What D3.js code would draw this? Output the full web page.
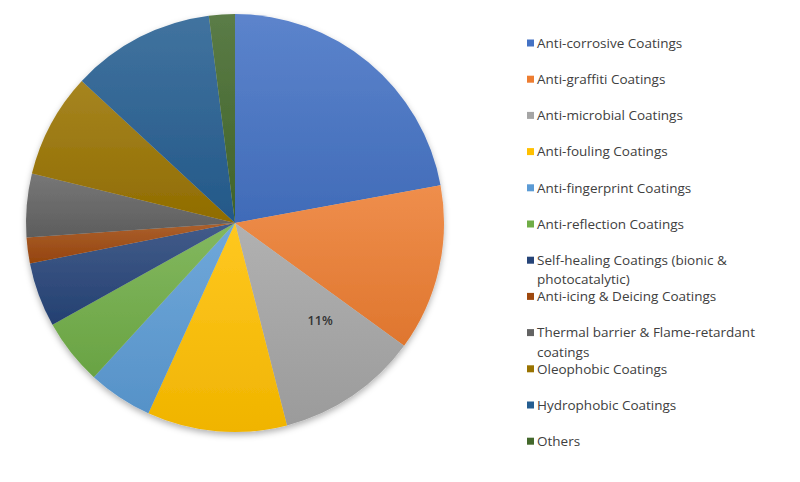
<!DOCTYPE html>
<html><head><meta charset="utf-8">
<script src="https://cdn.jsdelivr.net/npm/d3@7"></script>
<style>body{margin:0;background:#fff;}svg{display:block;}</style>
</head><body>
<svg id="chart" width="800" height="482"></svg>
<script>
const categories = ["Anti-corrosive Coatings","Anti-graffiti Coatings","Anti-microbial Coatings","Anti-fouling Coatings","Anti-fingerprint Coatings","Anti-reflection Coatings","Self-healing Coatings (bionic & photocatalytic)","Anti-icing & Deicing Coatings","Thermal barrier & Flame-retardant coatings","Oleophobic Coatings","Hydrophobic Coatings","Others"];
const legendLines = [["Anti-corrosive Coatings"],["Anti-graffiti Coatings"],["Anti-microbial Coatings"],["Anti-fouling Coatings"],["Anti-fingerprint Coatings"],["Anti-reflection Coatings"],["Self-healing Coatings (bionic &","photocatalytic)"],["Anti-icing & Deicing Coatings"],["Thermal barrier & Flame-retardant","coatings"],["Oleophobic Coatings"],["Hydrophobic Coatings"],["Others"]];
const values = [22.1, 12.9, 11.0, 10.8, 5.0, 5.1, 5.0, 2.0, 4.9, 8.1, 11.1, 2.0];
const colors = ["#4472C4","#ED7D31","#A5A5A5","#FFC000","#5B9BD5","#70AD47","#264478","#9E480E","#636363","#997300","#255E91","#43682B"];
const shownLabels = ["", "", "11%", "", "", "", "", "", "", "", "", ""];

const svg = d3.select("#chart");
const defs = svg.append("defs");
const f = defs.append("filter").attr("id","sh").attr("x","-10%").attr("y","-10%").attr("width","120%").attr("height","125%");
f.append("feDropShadow").attr("dx",0).attr("dy",3).attr("stdDeviation",3).attr("flood-color","#000").attr("flood-opacity",0.3);

colors.forEach((c,i)=>{
  const g = defs.append("linearGradient").attr("id","g"+i).attr("x1",0).attr("y1",0).attr("x2",0).attr("y2",1);
  g.append("stop").attr("offset","0%").attr("stop-color", d3.interpolateRgb(c,"#fff")(0.13));
  g.append("stop").attr("offset","100%").attr("stop-color", d3.interpolateRgb(c,"#000")(0.06));
});

const cx = 235, cy = 223, r = 209;
const pie = d3.pie().sort(null).value(d=>d);
const arc = d3.arc().innerRadius(0).outerRadius(r);
const arcs = pie(values);
const gp = svg.append("g").attr("transform",`translate(${cx},${cy})`);
const slices = gp.append("g").attr("filter","url(#sh)");
slices.selectAll("path").data(arcs).join("path")
  .attr("d", arc)
  .attr("fill",(d,i)=>`url(#g${i})`);

// best-fit style label position (shifted slightly toward slice start)
const labelPos = d => {
  const a = (d.startAngle + d.endAngle)/2 - 0.12;
  const rr = r*0.62;
  return [Math.sin(a)*rr, -Math.cos(a)*rr];
};
gp.selectAll("text.lbl").data(arcs).join("text").attr("class","lbl")
  .attr("transform", d=>`translate(${labelPos(d)})`)
  .attr("text-anchor","middle").attr("dy","0.35em")
  .attr("font-family","'Open Sans', sans-serif").attr("font-size",12.5).attr("font-weight",600)
  .attr("fill","#333")
  .text((d,i)=>shownLabels[i]);

const leg = svg.append("g").attr("font-family","'Open Sans', sans-serif").attr("font-size",13.5).attr("fill","#404040");
const rows = leg.selectAll("g").data(categories).join("g")
  .attr("transform",(d,i)=>`translate(527,${43 + i*36.2})`);
rows.append("rect").attr("x",0).attr("y",-3.5).attr("width",7).attr("height",7).attr("fill",(d,i)=>colors[i]);
rows.append("text").attr("x",10).attr("y",0)
  .selectAll("tspan").data((d,i)=>legendLines[i]).join("tspan")
  .attr("x",10).attr("dy",(d,j)=> j===0 ? "0.35em" : "19.5").text(d=>d);
</script>
</body></html>
